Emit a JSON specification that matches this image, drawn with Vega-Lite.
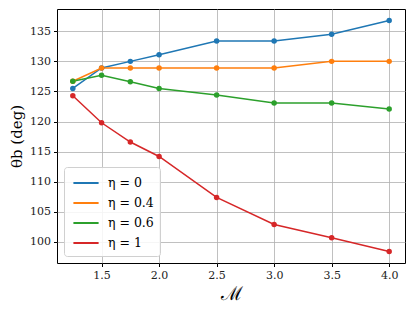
{
  "$schema": "https://vega.github.io/schema/vega-lite/v6.json",
  "width": 348,
  "height": 254,
  "autosize": {"type": "none"},
  "padding": {"left": 57, "top": 9, "right": 10, "bottom": 48},
  "background": "white",
  "config": {
    "view": {"stroke": "black", "strokeWidth": 1},
    "font": "DejaVu Serif",
    "axis": {
      "labelFont": "DejaVu Serif",
      "labelFontSize": 11,
      "labelColor": "#222",
      "titleFont": "DejaVu Serif",
      "titleFontWeight": "normal",
      "titleColor": "black",
      "gridColor": "#b0b0b0",
      "gridWidth": 0.8,
      "tickColor": "black",
      "tickSize": 3.5,
      "domain": false
    }
  },
  "data": {
    "values": [
      {"M": 1.25, "theta": 125.5, "eta": "η = 0"},
      {"M": 1.5, "theta": 128.9, "eta": "η = 0"},
      {"M": 1.75, "theta": 130.0, "eta": "η = 0"},
      {"M": 2.0, "theta": 131.1, "eta": "η = 0"},
      {"M": 2.5, "theta": 133.4, "eta": "η = 0"},
      {"M": 3.0, "theta": 133.4, "eta": "η = 0"},
      {"M": 3.5, "theta": 134.5, "eta": "η = 0"},
      {"M": 4.0, "theta": 136.8, "eta": "η = 0"},
      {"M": 1.25, "theta": 126.7, "eta": "η = 0.4"},
      {"M": 1.5, "theta": 128.9, "eta": "η = 0.4"},
      {"M": 1.75, "theta": 128.9, "eta": "η = 0.4"},
      {"M": 2.0, "theta": 128.9, "eta": "η = 0.4"},
      {"M": 2.5, "theta": 128.9, "eta": "η = 0.4"},
      {"M": 3.0, "theta": 128.9, "eta": "η = 0.4"},
      {"M": 3.5, "theta": 130.0, "eta": "η = 0.4"},
      {"M": 4.0, "theta": 130.0, "eta": "η = 0.4"},
      {"M": 1.25, "theta": 126.7, "eta": "η = 0.6"},
      {"M": 1.5, "theta": 127.7, "eta": "η = 0.6"},
      {"M": 1.75, "theta": 126.6, "eta": "η = 0.6"},
      {"M": 2.0, "theta": 125.5, "eta": "η = 0.6"},
      {"M": 2.5, "theta": 124.4, "eta": "η = 0.6"},
      {"M": 3.0, "theta": 123.1, "eta": "η = 0.6"},
      {"M": 3.5, "theta": 123.1, "eta": "η = 0.6"},
      {"M": 4.0, "theta": 122.1, "eta": "η = 0.6"},
      {"M": 1.25, "theta": 124.3, "eta": "η = 1"},
      {"M": 1.5, "theta": 119.8, "eta": "η = 1"},
      {"M": 1.75, "theta": 116.6, "eta": "η = 1"},
      {"M": 2.0, "theta": 114.2, "eta": "η = 1"},
      {"M": 2.5, "theta": 107.4, "eta": "η = 1"},
      {"M": 3.0, "theta": 102.9, "eta": "η = 1"},
      {"M": 3.5, "theta": 100.7, "eta": "η = 1"},
      {"M": 4.0, "theta": 98.4, "eta": "η = 1"}
    ]
  },
  "encoding": {
    "x": {
      "field": "M", "type": "quantitative",
      "scale": {"domain": [1.1125, 4.1375], "nice": false, "zero": false},
      "axis": {"values": [1.5, 2.0, 2.5, 3.0, 3.5, 4.0], "format": ".1f", "title": "ℳ", "titleFontSize": 19, "titlePadding": 4, "labelPadding": 3}
    },
    "y": {
      "field": "theta", "type": "quantitative",
      "scale": {"domain": [96.5, 138.7], "nice": false, "zero": false},
      "axis": {"values": [100, 105, 110, 115, 120, 125, 130, 135], "title": "θb (deg)", "titleFontSize": 15, "titlePadding": 5, "labelPadding": 3}
    },
    "color": {
      "field": "eta", "type": "nominal",
      "scale": {"domain": ["η = 0", "η = 0.4", "η = 0.6", "η = 1"], "range": ["#1f77b4", "#ff7f0e", "#2ca02c", "#d62728"]},
      "legend": {
        "title": null,
        "orient": "bottom-left",
        "offset": 7,
        "padding": 6,
        "symbolType": "M-1.4,0H1.4",
        "symbolSize": 324,
        "symbolStrokeWidth": 2,
        "symbolOffset": 6,
        "labelOffset": 12,
        "labelFont": "DejaVu Serif",
        "labelFontSize": 12.5,
        "labelColor": "black",
        "rowPadding": 3,
        "strokeColor": "#d0d0d0",
        "fillColor": "rgba(255,255,255,0.85)",
        "cornerRadius": 3
      }
    }
  },
  "layer": [
    {"mark": {"type": "line", "strokeWidth": 1.5}},
    {"mark": {"type": "circle", "size": 30, "opacity": 1}}
  ]
}
